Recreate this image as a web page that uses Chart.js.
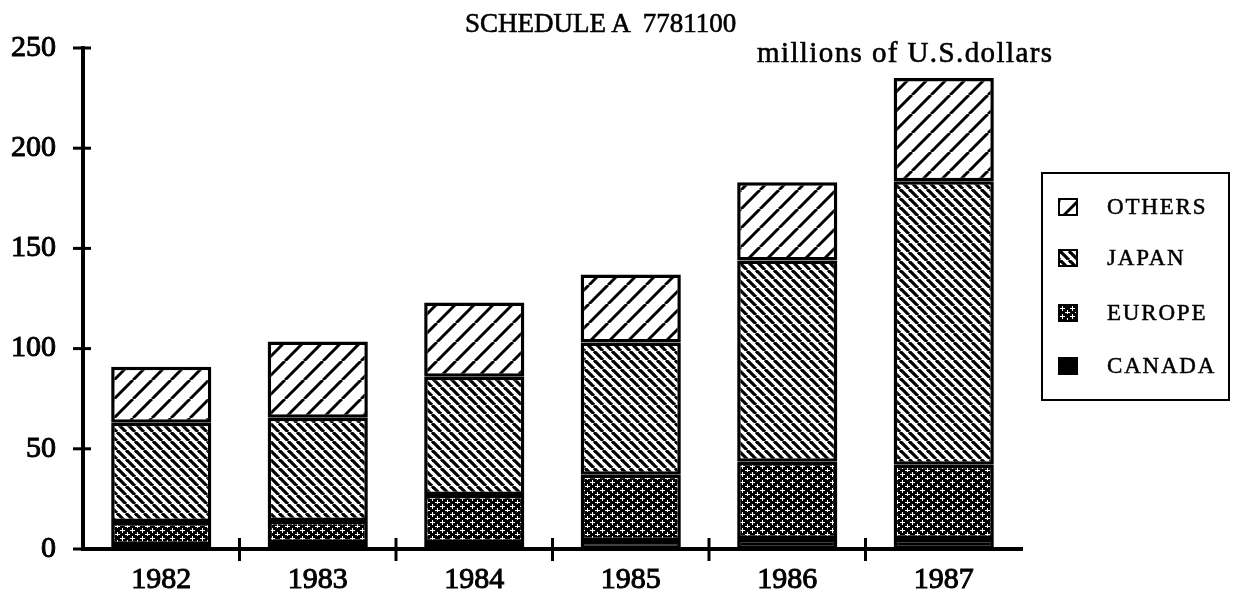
<!DOCTYPE html>
<html>
<head>
<meta charset="utf-8">
<script src="https://cdn.jsdelivr.net/npm/chart.js@4"></script>
<style>
  html, body { margin: 0; padding: 0; background: #fff; }
  #wrap { position: relative; width: 1243px; height: 598px; font-family: "Liberation Serif", "Times New Roman", serif; color: #000; }
  #grafico { position: absolute; left: 0; top: 0; }
  .titulo { position: absolute; white-space: pre; line-height: 1; -webkit-text-stroke: 0.6px #000; }
  #legenda { position: absolute; left: 1041px; top: 172px; width: 185px; height: 225px; border: 2px solid #000; }
  .item { position: absolute; left: 15px; height: 22px; display: flex; align-items: center; font-size: 23px; letter-spacing: 1.8px; -webkit-text-stroke: 0.5px #000; }
  .caixa { width: 16px; height: 14px; border: 2px solid #000; margin-right: 29px; background-color: #fff; }
</style>
</head>
<body>
<div id="wrap">
  <canvas id="grafico" width="1243" height="598"></canvas>
  <div class="titulo" style="left:465px; top:10px; font-size:27px;">SCHEDULE A  7781100</div>
  <div class="titulo" style="left:757px; top:38px; font-size:29px; letter-spacing:1.4px;">millions of U.S.dollars</div>
  <div id="legenda"></div>
</div>
<script>
// dados (milhoes de US$)
const anos = ['1982', '1983', '1984', '1985', '1986', '1987'];
const canada = [2, 3, 3, 4, 5, 5];
const europa = [11.5, 11, 24, 33, 38.5, 37];
const japao = [49.5, 51.5, 59, 66, 100.5, 141.5];
const outros = [28, 38, 37, 34, 39, 51.5];
const ticksY = [0, 50, 100, 150, 200, 250];

// --- texturas (hachuras) ---
function hachura(periodo, espessura, sentido) {
    const c = document.createElement('canvas');
    c.width = periodo; c.height = periodo;
    const g = c.getContext('2d');
    g.fillStyle = '#fff'; g.fillRect(0, 0, periodo, periodo);
    g.strokeStyle = '#000'; g.lineWidth = espessura;
    for (let x0 = -periodo; x0 <= periodo; x0 += periodo) {
        g.beginPath();
        if (sentido === '/') { g.moveTo(x0, periodo); g.lineTo(x0 + periodo, 0); }
        else { g.moveTo(x0, 0); g.lineTo(x0 + periodo, periodo); }
        g.stroke();
    }
    return c;
}
function cruzes() {
    const c = document.createElement('canvas');
    c.width = 10; c.height = 8;
    const g = c.getContext('2d');
    g.fillStyle = '#000'; g.fillRect(0, 0, 10, 8);
    g.fillStyle = '#fff';
    [[2, 2], [7, 6]].forEach(function(p) {
        g.fillRect(p[0] - 2, p[1], 5, 1);
        g.fillRect(p[0], p[1] - 2, 1, 5);
    });
    return c;
}
const ctx = document.getElementById('grafico').getContext('2d');
const tileOutros = hachura(19, 3, '/');
const tileJapao = hachura(9, 3.2, '\\');
const tileEuropa = cruzes();

// legenda em HTML
const legenda = [
    ['OTHERS', tileOutros],
    ['JAPAN', tileJapao],
    ['EUROPE', tileEuropa],
    ['CANADA', null]
];
const tops = [22, 73, 128, 181];
legenda.forEach(function(l, i) {
    const d = document.createElement('div');
    d.className = 'item';
    d.style.top = tops[i] + 'px';
    const cx = document.createElement('span');
    cx.className = 'caixa';
    if (l[1]) cx.style.backgroundImage = 'url(' + l[1].toDataURL() + ')';
    else cx.style.backgroundColor = '#000';
    d.appendChild(cx);
    d.appendChild(document.createTextNode(l[0]));
    document.getElementById('legenda').appendChild(d);
});

// marcas dos eixos (cruzam a linha do eixo)
const marcas = {
    id: 'marcas',
    afterDraw(chart) {
        const g = chart.ctx, x = chart.scales.x, y = chart.scales.y;
        g.save();
        g.strokeStyle = '#000'; g.lineWidth = 3;
        ticksY.forEach(function(v) {
            const py = y.getPixelForValue(v);
            g.beginPath(); g.moveTo(x.left - 10, py); g.lineTo(x.left + 8, py); g.stroke();
        });
        for (let i = 0; i < anos.length - 1; i++) {
            const px = (x.getPixelForValue(i) + x.getPixelForValue(i + 1)) / 2;
            g.beginPath(); g.moveTo(px, y.bottom - 11); g.lineTo(px, y.bottom + 12); g.stroke();
        }
        g.restore();
    }
};

const fonteTicks = { family: 'Liberation Serif', size: 30 };
const base = { borderColor: '#000', borderWidth: 3.5, borderSkipped: false, barPercentage: 0.64, categoryPercentage: 1 };
new Chart(ctx, {
    type: 'bar',
    data: {
        labels: anos,
        datasets: [
            Object.assign({ label: 'CANADA', data: canada, backgroundColor: '#000' }, base),
            Object.assign({ label: 'EUROPE', data: europa, backgroundColor: ctx.createPattern(tileEuropa, 'repeat') }, base),
            Object.assign({ label: 'JAPAN', data: japao, backgroundColor: ctx.createPattern(tileJapao, 'repeat') }, base),
            Object.assign({ label: 'OTHERS', data: outros, backgroundColor: ctx.createPattern(tileOutros, 'repeat') }, base)
        ]
    },
    options: {
        responsive: false,
        animation: false,
        layout: { padding: { top: 48, right: 221, left: 0, bottom: 0 } },
        plugins: { legend: { display: false }, tooltip: { enabled: false } },
        scales: {
            x: {
                stacked: true,
                grid: { display: false, drawTicks: false },
                border: { display: true, color: '#000', width: 4 },
                ticks: { color: '#000', padding: 13, font: fonteTicks, textStrokeColor: '#000', textStrokeWidth: 1 },
                afterFit(s) { s.height = 49; }
            },
            y: {
                stacked: true,
                min: 0, max: 250,
                afterBuildTicks(s) { s.ticks = ticksY.map(function(v) { return { value: v }; }); },
                grid: { display: false, drawTicks: false },
                border: { display: true, color: '#000', width: 4 },
                ticks: { color: '#000', padding: 27, font: fonteTicks, textStrokeColor: '#000', textStrokeWidth: 1 },
                afterFit(s) { s.width = 83; }
            }
        }
    },
    plugins: [marcas]
});
</script>
</body>
</html>
